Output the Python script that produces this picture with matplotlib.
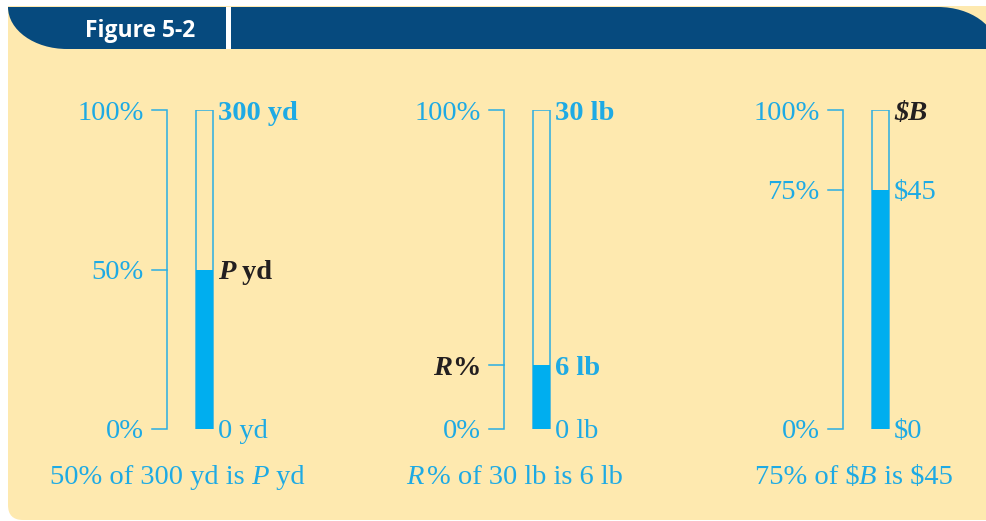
import matplotlib
matplotlib.use("Agg")
import matplotlib.pyplot as plt
from matplotlib.patches import FancyBboxPatch, PathPatch, Rectangle
from matplotlib.path import Path

# ---- chart content ----
bar_pct = [50, 20, 75]

left_top = ["100%", "100%", "100%"]
left_mid = [
    [("50%", "r")],
    [("R", "bi"), ("%", "b")],
    [("75%", "r")],
]
left_bottom = ["0%", "0%", "0%"]

right_top = [
    [("300 yd", "b")],
    [("30 lb", "b")],
    [("$B", "bi")],
]
right_mid = [
    [("P", "bi"), (" yd", "b")],
    [("6 lb", "b")],
    [("$45", "r")],
]
right_bottom = ["0 yd", "0 lb", "$0"]

captions = [
    [("50% of 300 yd is", "r"), (" P", "i"), (" yd", "r")],
    [("R", "i"), ("% of 30 lb is 6 lb", "r")],
    [("75% of $", "r"), ("B", "i"), (" is $45", "r")],
]

# which labels are printed in black instead of cyan
left_mid_black = [False, True, False]
right_top_black = [False, False, True]
right_mid_black = [True, False, False]

# ---- style / layout ----
W, H = 987, 521
CYAN_TXT = "#1eaae4"
CYAN_LINE = "#2aaee3"
BAR = "#00aeef"
INK = "#231f20"
NAVY = "#064a7e"
BEIGE = "#fee9af"
SERIF = "Liberation Serif"
FS = 20.5

bar_x = [204.5, 541.5, 880.5]        # bar centres, pixels
caption_x = [177.5, 515, 853.5]
BAR_W = 17
Y0_PX, Y100_PX = 429, 110            # pixel rows of 0% and 100%


def px_to_pct(py):
    return (Y0_PX - py) / (Y0_PX - Y100_PX) * 100


fig = plt.figure(figsize=(W / 100, H / 100), dpi=100, facecolor="white")

# background: beige card and navy header band (pixel coordinates)
bg = fig.add_axes([0, 0, 1, 1])
bg.set_xlim(0, W)
bg.set_ylim(H, 0)
bg.axis("off")

bg.add_patch(FancyBboxPatch((8, 6), 1000, 514, boxstyle="round,pad=0,rounding_size=15",
                            fc=BEIGE, ec="none"))
bg.add_patch(Rectangle((8, 6), 1000, 200, fc=BEIGE, ec="none"))

k = 0.552
verts = [
    (8, 7), (8, 7 + 42 * k), (67 - 59 * k, 49), (67, 49),
    (997, 49),
    (997, 49 - 42 * k), (938 + 59 * k, 7), (938, 7),
    (8, 7),
]
codes = [Path.MOVETO, Path.CURVE4, Path.CURVE4, Path.CURVE4,
         Path.LINETO,
         Path.CURVE4, Path.CURVE4, Path.CURVE4,
         Path.CLOSEPOLY]
bg.add_patch(PathPatch(Path(verts, codes), fc=NAVY, ec="none"))
bg.add_patch(Rectangle((226, 7), 5, 42, fc="white", ec="none"))
bg.text(140, 31, "Figure 5-2", color="white", fontsize=16.5, fontweight="bold",
        family="Open Sans", ha="center", va="center")

# main axes: x in pixels, y in percent
ax = fig.add_axes([0, (H - Y0_PX) / H, 1, (Y0_PX - Y100_PX) / H])
ax.set_xlim(0, W)
ax.set_ylim(0, 100)
ax.axis("off")
ax.patch.set_alpha(0)

ax.bar(bar_x, [100] * 3, width=BAR_W, facecolor="none", edgecolor=CYAN_LINE, lw=1.1)
ax.bar(bar_x, bar_pct, width=BAR_W, color=BAR, lw=0)

pending = []


def rich(x, y, parts, color, ha="left"):
    texts = []
    prev = None
    prev_st = ""
    for s, st in parts:
        kw = dict(color=color, fontsize=FS, family=SERIF,
                  fontweight="bold" if "b" in st else "normal",
                  fontstyle="italic" if "i" in st else "normal",
                  parse_math=False, clip_on=False)
        if prev is None:
            t = ax.text(x, y, s, ha="left", va="center_baseline", **kw)
        else:
            # small kern after a light italic capital so it does not collide
            gap = 2.5 if prev_st == "i" and not s.startswith(" ") else 0
            t = ax.annotate(s, xy=(1, 0), xycoords=prev, xytext=(gap, 0),
                            textcoords="offset points", ha="left", va="bottom",
                            annotation_clip=False, **kw)
        texts.append(t)
        prev = t
        prev_st = st
    if ha != "left":
        pending.append((texts, x, ha))


for i in range(3):
    bx = bar_x[i] - BAR_W / 2 - 29.5      # bracket line
    lx = bx - 23                          # right edge of left labels
    rx = bar_x[i] + BAR_W / 2 + 5         # left edge of right labels
    m = bar_pct[i]

    ax.plot([bx - 15, bx, bx, bx - 15], [100, 100, 0, 0], color=CYAN_LINE, lw=1.1,
            solid_joinstyle="miter", clip_on=False)
    ax.plot([bx - 15, bx], [m, m], color=CYAN_LINE, lw=1.1, clip_on=False)

    rich(lx, 100, [(left_top[i], "r")], CYAN_TXT, ha="right")
    rich(lx, m, left_mid[i], INK if left_mid_black[i] else CYAN_TXT, ha="right")
    rich(lx, 0, [(left_bottom[i], "r")], CYAN_TXT, ha="right")

    rich(rx, 100, right_top[i], INK if right_top_black[i] else CYAN_TXT)
    rich(rx, m, right_mid[i], INK if right_mid_black[i] else CYAN_TXT)
    rich(rx, 0, [(right_bottom[i], "r")], CYAN_TXT)

    rich(caption_x[i], px_to_pct(474), captions[i], CYAN_TXT, ha="center")

# shift mixed-style labels for right / centre alignment (1 x-unit == 1 pixel)
fig.canvas.draw()
r = fig.canvas.get_renderer()
for texts, x, ha in pending:
    ext = [t.get_window_extent(r) for t in texts]
    w = max(e.x1 for e in ext) - min(e.x0 for e in ext)
    texts[0].set_x(x - (w if ha == "right" else w / 2))

fig.savefig("out.png", dpi=100, facecolor=fig.get_facecolor())
